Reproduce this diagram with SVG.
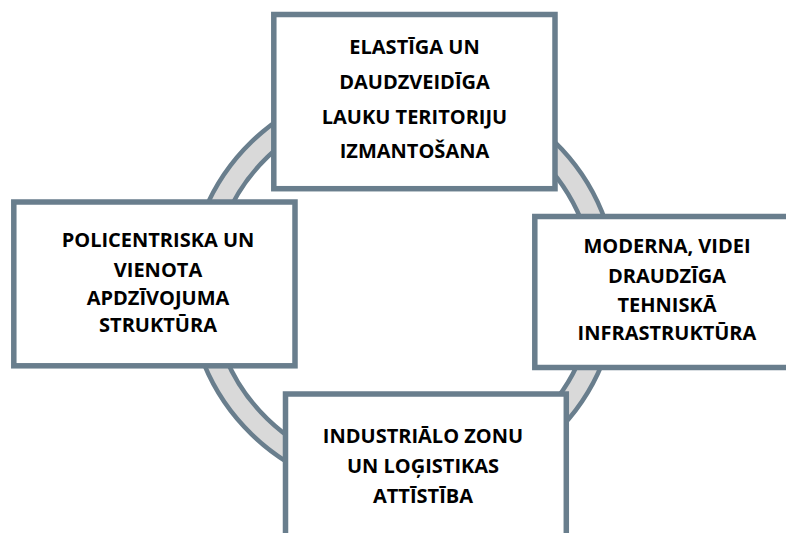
<svg xmlns="http://www.w3.org/2000/svg" width="786" height="533" viewBox="0 0 786 533">
  <style>
    .box { fill: #ffffff; stroke: #697E8D; stroke-width: 5.5; }
    .ring { fill: #D9D9D9; stroke: #697E8D; stroke-width: 4.5; fill-rule: evenodd; }
    .lbl { font-family: "Open Sans", "Noto Sans", "Liberation Sans", sans-serif; font-weight: bold; font-size: 20px; fill: #000000; text-anchor: middle; }
  </style>
  <rect x="0" y="0" width="786" height="533" fill="#ffffff"/>
  <g id="connectors">
    <path class="ring" d="M 189 288 A 214 207 0 1 0 617 288 A 214 207 0 1 0 189 288 Z M 211.5 288 A 191.5 185.5 0 1 0 594.5 288 A 191.5 185.5 0 1 0 211.5 288 Z"/>
  </g>
  <g id="node-top">
    <rect class="box" x="273.8" y="14.5" width="281.2" height="174.2"/>
    <text class="lbl" x="414.5" y="54.3">ELASTĪGA UN</text>
    <text class="lbl" x="414.5" y="89">DAUDZVEIDĪGA</text>
    <text class="lbl" x="414.5" y="123.7">LAUKU TERITORIJU</text>
    <text class="lbl" x="414.5" y="158.3">IZMANTOŠANA</text>
  </g>
  <g id="node-left">
    <rect class="box" x="13.8" y="202" width="281.2" height="163.8"/>
    <text class="lbl" x="158" y="247.3">POLICENTRISKA UN</text>
    <text class="lbl" x="158" y="276.5">VIENOTA</text>
    <text class="lbl" x="158" y="304.5">APDZĪVOJUMA</text>
    <text class="lbl" x="158" y="332">STRUKTŪRA</text>
  </g>
  <g id="node-right">
    <rect class="box" x="534.8" y="216.5" width="300" height="151"/>
    <text class="lbl" x="667" y="253.3">MODERNA, VIDEI</text>
    <text class="lbl" x="667" y="282.7">DRAUDZĪGA</text>
    <text class="lbl" x="667" y="311.7">TEHNISKĀ</text>
    <text class="lbl" x="667" y="340">INFRASTRUKTŪRA</text>
  </g>
  <g id="node-bottom">
    <rect class="box" x="285.5" y="394" width="280.8" height="180"/>
    <text class="lbl" x="423" y="443.3">INDUSTRIĀLO ZONU</text>
    <text class="lbl" x="423" y="473.3">UN LOĢISTIKAS</text>
    <text class="lbl" x="423" y="503.3">ATTĪSTĪBA</text>
  </g>
</svg>
